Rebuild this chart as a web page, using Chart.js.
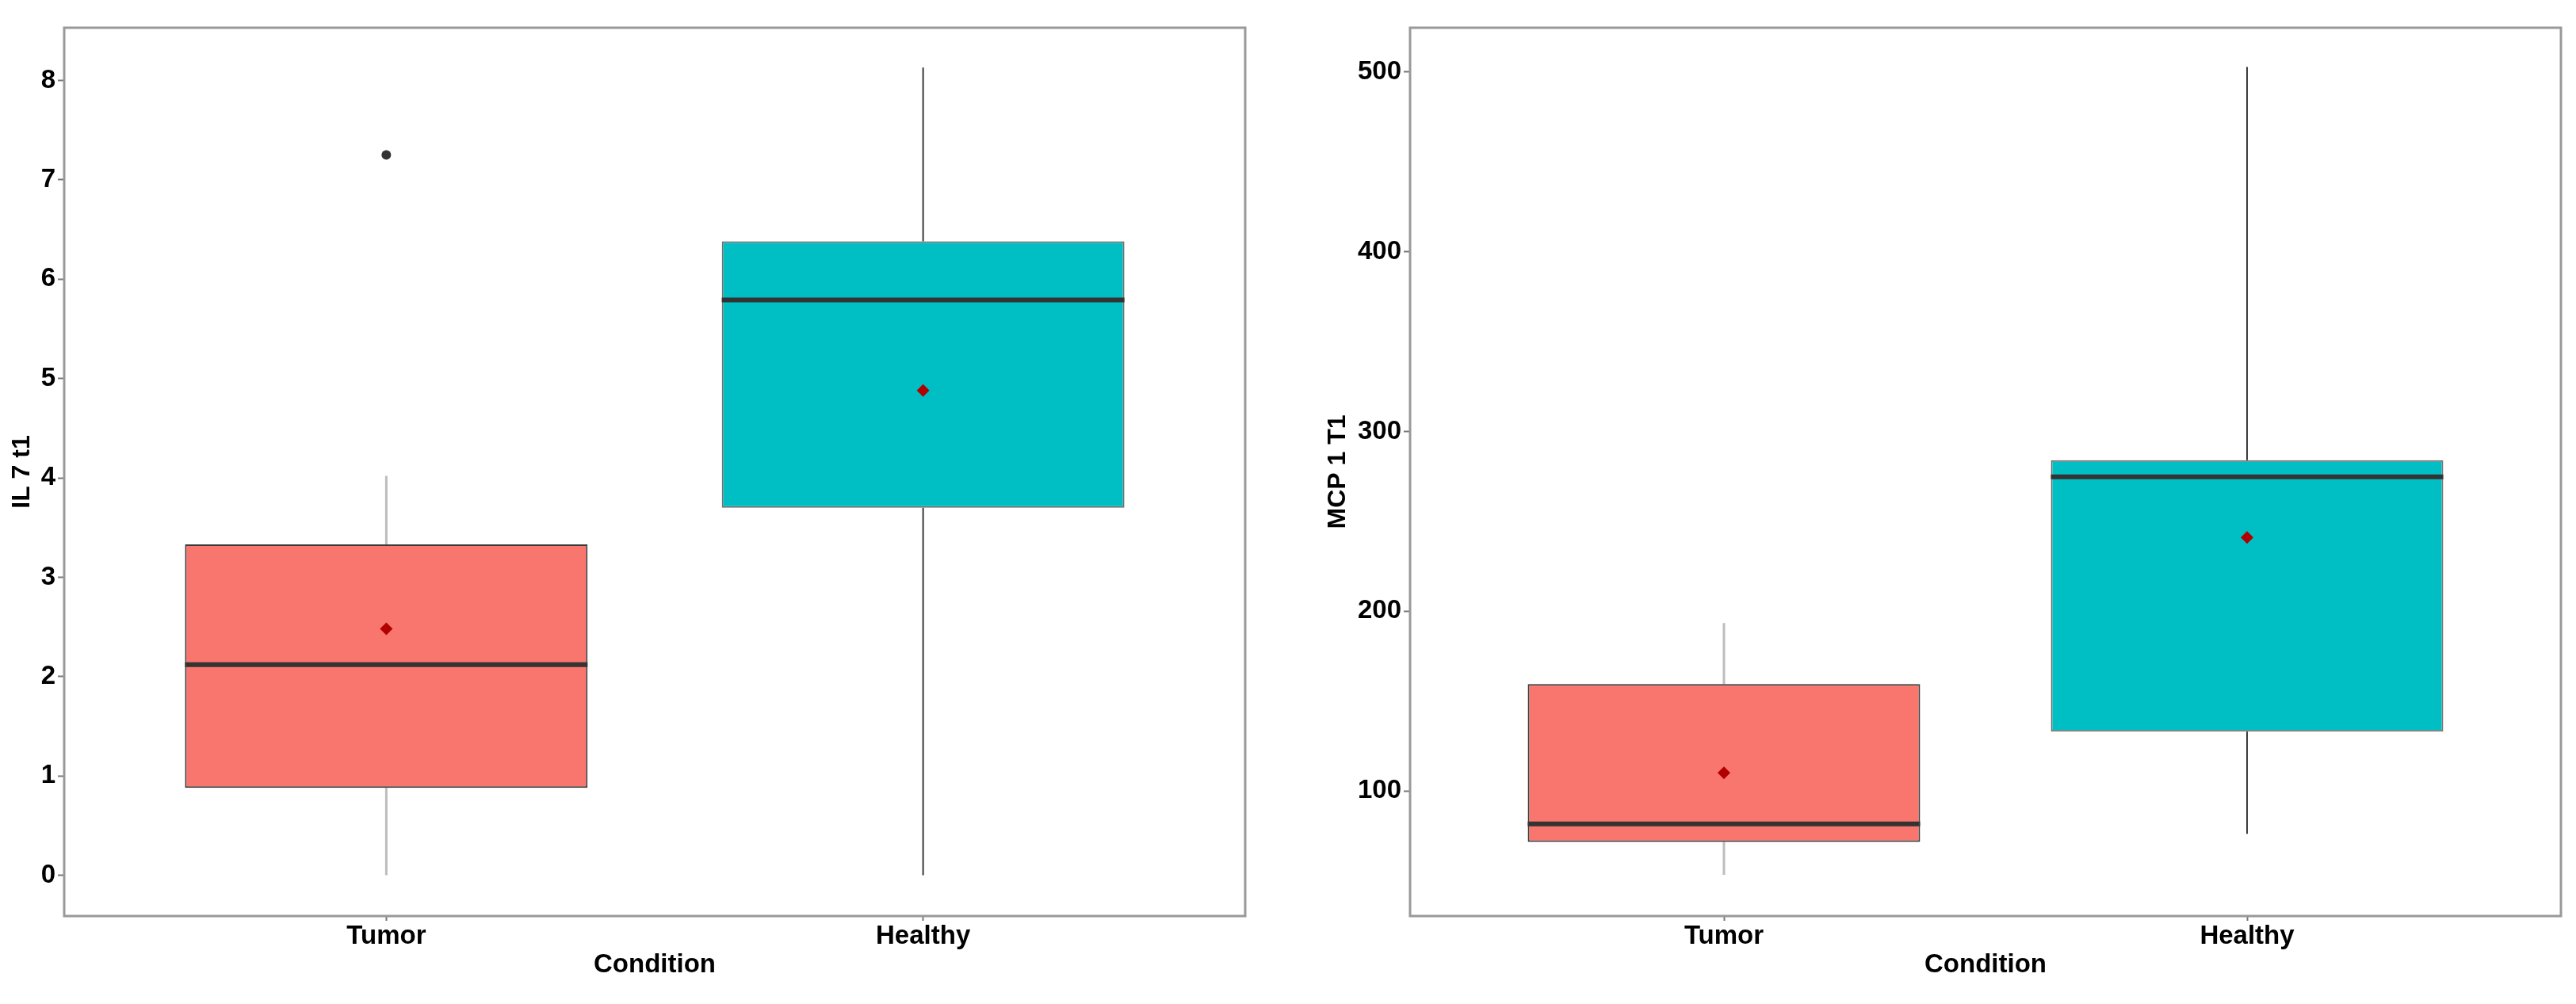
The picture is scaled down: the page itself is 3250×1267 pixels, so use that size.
<!DOCTYPE html>
<html lang="en">
<head>
    <meta charset="UTF-8">
    <title>IL 7 t1 / MCP 1 T1 by Condition</title>
    <script src="https://cdn.jsdelivr.net/npm/chart.js"></script>
    <style>
        html, body {
            margin: 0;
            padding: 0;
            width: 3250px;
            height: 1267px;
            background: #fff;
            overflow: hidden;
        }
        .panel {
            position: absolute;
            top: 0;
            width: 1625px;
            height: 1267px;
        }
        #leftPanel { left: 0; }
        #rightPanel { left: 1625px; }
    </style>
</head>
<body>
    <div class="panel" id="leftPanel"><canvas id="ilChart" width="1625" height="1267"></canvas></div>
    <div class="panel" id="rightPanel"><canvas id="mcpChart" width="1625" height="1267"></canvas></div>
    <script>
        const categories = ['Tumor', 'Healthy'];
        const boxColors = ['#F8766D', '#00BFC4'];

        // IL 7 t1
        const ilMin = [0, 0];
        const ilQ1 = [0.88, 3.70];
        const ilMedian = [2.12, 5.79];
        const ilQ3 = [3.33, 6.38];
        const ilMax = [4.02, 8.13];
        const ilMean = [2.48, 4.88];
        const ilOutlierGroup = [1];
        const ilOutlierValue = [7.25];
        const ilTicks = [0, 1, 2, 3, 4, 5, 6, 7, 8];

        // MCP 1 T1
        const mcpMin = [53.4, 76.2];
        const mcpQ1 = [71.7, 133.1];
        const mcpMedian = [81.7, 274.8];
        const mcpQ3 = [159.5, 284.0];
        const mcpMax = [193.4, 502.7];
        const mcpMean = [110.1, 241.0];
        const mcpOutlierGroup = [];
        const mcpOutlierValue = [];
        const mcpTicks = [100, 200, 300, 400, 500];

        const FONT = "'Liberation Sans', Arial, sans-serif";

        // whiskers behind the boxes, medians on top, grey panel border
        const boxExtras = {
            id: 'boxExtras',
            beforeDatasetsDraw(chart) {
                const s = chart.options.plugins.boxExtras;
                const { x, y } = chart.scales;
                const ctx = chart.ctx;
                ctx.save();
                categories.forEach((c, i) => {
                    const px = x.getPixelForValue(i + 1);
                    ctx.strokeStyle = s.whiskerColor[i];
                    ctx.lineWidth = s.whiskerWidth[i];
                    ctx.beginPath();
                    ctx.moveTo(px, y.getPixelForValue(s.q3[i]));
                    ctx.lineTo(px, y.getPixelForValue(s.max[i]));
                    ctx.moveTo(px, y.getPixelForValue(s.q1[i]));
                    ctx.lineTo(px, y.getPixelForValue(s.min[i]));
                    ctx.stroke();
                });
                ctx.restore();
            },
            afterDatasetsDraw(chart) {
                const s = chart.options.plugins.boxExtras;
                const y = chart.scales.y;
                const bars = chart.getDatasetMeta(0).data;
                const ctx = chart.ctx;
                ctx.save();
                ctx.strokeStyle = '#333333';
                ctx.lineWidth = 6;
                bars.forEach((bar, i) => {
                    const py = y.getPixelForValue(s.median[i]);
                    ctx.beginPath();
                    ctx.moveTo(bar.x - bar.width / 2, py);
                    ctx.lineTo(bar.x + bar.width / 2, py);
                    ctx.stroke();
                });
                const a = chart.chartArea;
                ctx.strokeStyle = '#999999';
                ctx.lineWidth = 3;
                ctx.strokeRect(a.left, a.top, a.right - a.left, a.bottom - a.top);
                ctx.restore();
            }
        };

        function makeChart(id, cfg) {
            const boxData = categories.map((c, i) => ({ x: i + 1, y: [cfg.q1[i], cfg.q3[i]] }));
            const meanData = categories.map((c, i) => ({ x: i + 1, y: cfg.mean[i] }));
            const outData = cfg.outGroup.map((g, i) => ({ x: g, y: cfg.outValue[i] }));

            return new Chart(document.getElementById(id), {
                type: 'bar',
                data: {
                    datasets: [{
                        data: boxData,
                        backgroundColor: boxColors,
                        borderColor: ['#3a3a3a', '#707070'],
                        borderWidth: 2,
                        borderSkipped: false,
                        barPercentage: 0.75,
                        categoryPercentage: 1,
                        grouped: false,
                        order: 3
                    }, {
                        type: 'scatter',
                        data: meanData,
                        pointStyle: 'rectRot',
                        pointRadius: 8,
                        backgroundColor: '#b00000',
                        borderWidth: 0,
                        order: 1
                    }, {
                        type: 'scatter',
                        data: outData,
                        pointStyle: 'circle',
                        pointRadius: 6,
                        backgroundColor: '#333333',
                        borderWidth: 0,
                        order: 2
                    }]
                },
                options: {
                    responsive: false,
                    animation: false,
                    layout: {
                        padding: { left: 0, right: cfg.padRight, top: 35, bottom: 0 }
                    },
                    plugins: {
                        legend: { display: false },
                        tooltip: { enabled: false },
                        boxExtras: {
                            min: cfg.min, q1: cfg.q1, median: cfg.median, q3: cfg.q3, max: cfg.max,
                            whiskerColor: ['#bdbdbd', '#3a3a3a'],
                            whiskerWidth: [3, 2]
                        }
                    },
                    scales: {
                        x: {
                            type: 'linear',
                            min: 0.4,
                            max: 2.6,
                            offset: false,
                            afterBuildTicks: axis => {
                                axis.ticks = categories.map((c, i) => ({ value: i + 1 }));
                            },
                            afterFit: axis => { axis.height = 111; },
                            ticks: {
                                callback: v => categories[v - 1],
                                color: '#000',
                                padding: 0,
                                maxRotation: 0,
                                autoSkip: false,
                                font: { family: FONT, size: 33, weight: 'bold' }
                            },
                            grid: {
                                offset: false,
                                drawOnChartArea: false,
                                drawTicks: true,
                                tickLength: 6,
                                tickColor: '#777777',
                                tickWidth: 2
                            },
                            border: { display: false },
                            title: {
                                display: true,
                                text: 'Condition',
                                color: '#000',
                                padding: { top: 0, bottom: 29 },
                                font: { family: FONT, size: 33, weight: 'bold' }
                            }
                        },
                        y: {
                            type: 'linear',
                            min: cfg.yMin,
                            max: cfg.yMax,
                            afterBuildTicks: axis => {
                                axis.ticks = cfg.ticks.map(v => ({ value: v }));
                            },
                            afterFit: axis => { axis.width = cfg.yAxisWidth; },
                            ticks: {
                                color: '#000',
                                padding: 3,
                                font: { family: FONT, size: 33, weight: 'bold' }
                            },
                            grid: {
                                drawOnChartArea: false,
                                drawTicks: true,
                                tickLength: 8,
                                tickColor: '#777777',
                                tickWidth: 2
                            },
                            border: { display: false },
                            title: {
                                display: true,
                                text: cfg.yTitle,
                                color: '#000',
                                padding: { top: cfg.titlePad, bottom: 0 },
                                font: { family: FONT, size: 32, weight: 'bold' }
                            }
                        }
                    }
                },
                plugins: [boxExtras]
            });
        }

        makeChart('ilChart', {
            min: ilMin, q1: ilQ1, median: ilMedian, q3: ilQ3, max: ilMax, mean: ilMean,
            outGroup: ilOutlierGroup, outValue: ilOutlierValue, ticks: ilTicks,
            yMin: -0.41, yMax: 8.53, yTitle: 'IL 7 t1',
            yAxisWidth: 81, padRight: 54, titlePad: 9
        });

        makeChart('mcpChart', {
            min: mcpMin, q1: mcpQ1, median: mcpMedian, q3: mcpQ3, max: mcpMax, mean: mcpMean,
            outGroup: mcpOutlierGroup, outValue: mcpOutlierValue, ticks: mcpTicks,
            yMin: 30.5, yMax: 524.5, yTitle: 'MCP 1 T1',
            yAxisWidth: 154, padRight: 19, titlePad: 44
        });
    </script>
</body>
</html>
